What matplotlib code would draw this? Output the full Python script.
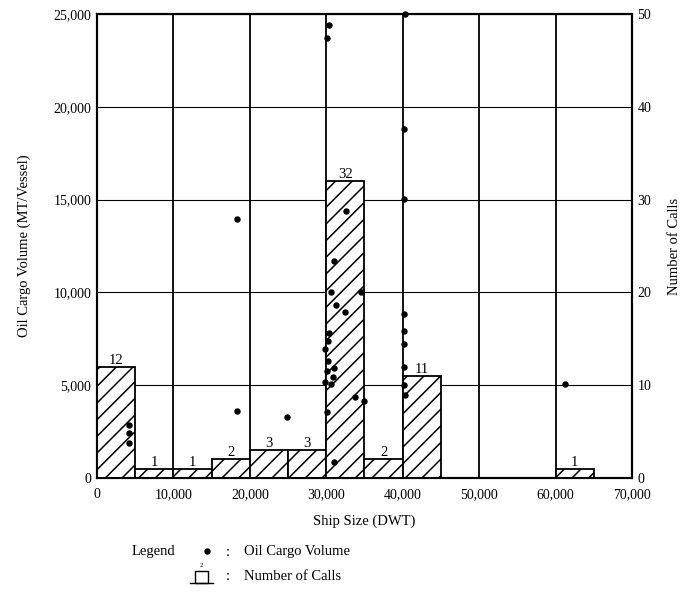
import matplotlib
matplotlib.use('Agg')
import matplotlib.pyplot as plt
from matplotlib.patches import Rectangle
from matplotlib.lines import Line2D
from matplotlib.ticker import FuncFormatter

# histogram of calls per 5,000 DWT class
bin_left = [0, 5000, 10000, 15000, 20000, 25000, 30000, 35000, 40000,
            45000, 50000, 55000, 60000, 65000]
calls = [12, 1, 1, 2, 3, 3, 32, 2, 11, 0, 0, 0, 1, 0]

# oil cargo volume per vessel
ship_dwt = [4190, 4190, 4190,
            18320, 18320, 24850,
            30300, 30040, 32580, 30980, 30680, 34600, 31330, 32450, 30300,
            30200, 29820, 30200, 30980, 30040, 30850, 29820, 30680, 33740,
            34910, 30040, 30980,
            40280, 40190, 40190, 40190, 40190, 40190, 40190, 40190, 40280,
            61230]
cargo_mt = [2880, 2400, 1910,
            13950, 3620, 3300,
            24430, 23700, 14380, 11680, 10000, 10000, 9330, 8920, 7820,
            7400, 6950, 6290, 5910, 5750, 5460, 5190, 5060, 4340,
            4150, 3580, 860,
            25000, 18790, 15010, 8810, 7910, 7210, 6000, 5030, 4450,
            5060]

plt.rcParams['font.family'] = ['Liberation Serif', 'DejaVu Serif']
plt.rcParams['hatch.linewidth'] = 1.1

fig = plt.figure(figsize=(6.84, 5.92), dpi=100)
ax = fig.add_axes([97 / 684, 1 - 478 / 592, 535 / 684, 464 / 592])
ax2 = ax.twinx()

fmt = FuncFormatter(lambda v, p: f'{int(v):,}')
ax.set_xticks(range(0, 70001, 10000))
ax.set_yticks(range(0, 25001, 5000))
ax2.set_yticks(range(0, 51, 10))
ax.xaxis.set_major_formatter(fmt)
ax.yaxis.set_major_formatter(fmt)

ax.set_axisbelow(True)
ax.xaxis.grid(True, color='black', linewidth=1.3)
ax.yaxis.grid(True, color='black', linewidth=0.8)

keep = [i for i, c in enumerate(calls) if c > 0]
bars = ax2.bar([bin_left[i] for i in keep], [calls[i] for i in keep],
               width=5000, align='edge', facecolor='white', edgecolor='black',
               hatch='//', linewidth=1.3, zorder=2)
ax2.bar_label(bars, padding=0, fontsize=10.5)

ax2.plot(ship_dwt, cargo_mt, 'o', color='black', ms=3.6,
         transform=ax.transData, zorder=3, clip_on=False)

ax.set_xlim(0, 70000)
ax.set_ylim(0, 25000)
ax2.set_ylim(0, 50)

for a in (ax, ax2):
    for s in a.spines.values():
        s.set_linewidth(1.5)
    a.tick_params(length=0, labelsize=10, pad=4)
ax.tick_params(axis='x', pad=7)

ax.set_xlabel('Ship Size (DWT)', fontsize=10.5, labelpad=10)
ax.set_ylabel('Oil Cargo Volume (MT/Vessel)', fontsize=10.5, labelpad=16)
ax2.set_ylabel('Number of Calls', fontsize=10.5, labelpad=12)

# legend below the chart
def fx(px):
    return px / 684

def fy(py):
    return 1 - py / 592

fig.text(fx(175), fy(552), 'Legend', ha='right', va='center', fontsize=10.5)
fig.add_artist(Line2D([fx(207)], [fy(551)], marker='o', ms=3.6, color='black',
                      transform=fig.transFigure))
fig.text(fx(228), fy(552), ':', ha='center', va='center', fontsize=10.5)
fig.text(fx(244), fy(552), 'Oil Cargo Volume', ha='left', va='center', fontsize=10.5)

fig.add_artist(Rectangle((fx(195), fy(583)), 13 / 684, 12 / 592, facecolor='white',
                         edgecolor='black', linewidth=1.0, transform=fig.transFigure))
fig.add_artist(Line2D([fx(190), fx(213)], [fy(583), fy(583)], color='black',
                      linewidth=1.0, transform=fig.transFigure))
fig.text(fx(201.5), fy(568), '2', ha='center', va='bottom', fontsize=5)
fig.text(fx(228), fy(576), ':', ha='center', va='center', fontsize=10.5)
fig.text(fx(244), fy(576), 'Number of Calls', ha='left', va='center', fontsize=10.5)

fig.savefig('out.png', dpi=100)
